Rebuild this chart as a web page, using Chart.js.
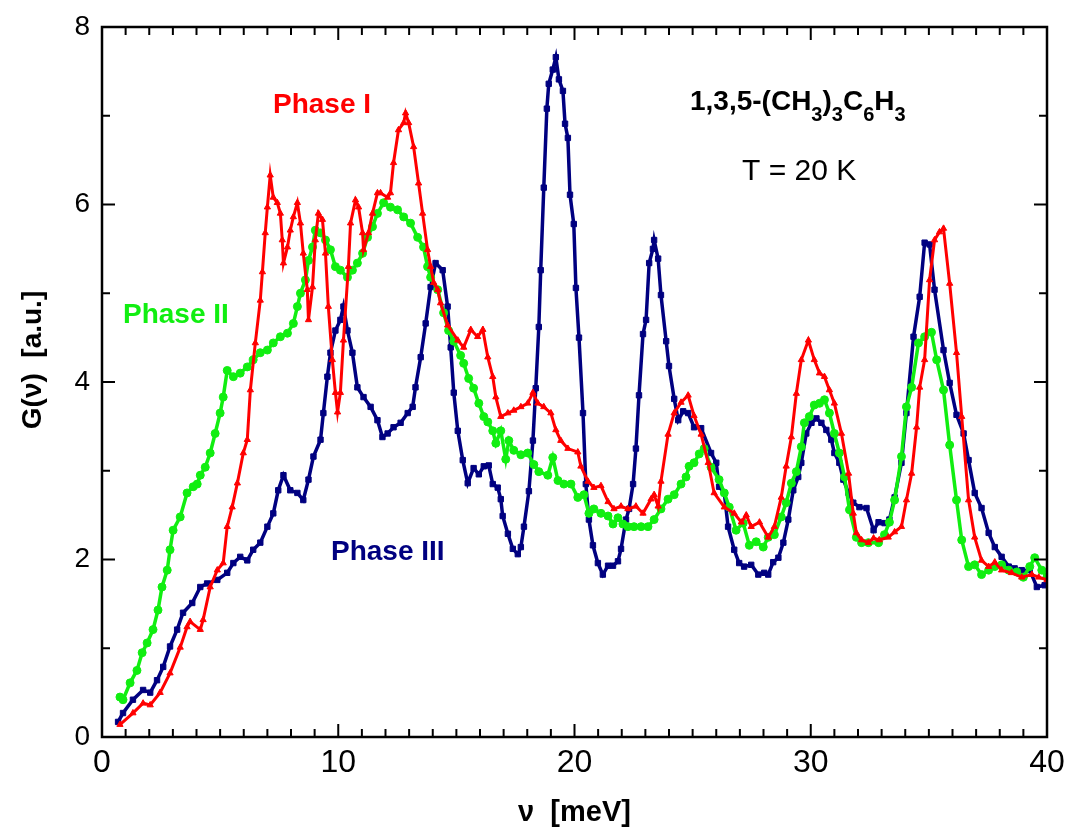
<!DOCTYPE html>
<html lang="ru">
<head>
<meta charset="UTF-8">
<title>G(ν) — 1,3,5-(CH3)3C6H3, T = 20 K</title>
<script src="https://cdn.jsdelivr.net/npm/chart.js"></script>
<style>
  html, body { margin: 0; padding: 0; background: #fff; }
  #wrap { width: 1065px; height: 830px; }
</style>
</head>
<body>
<div id="wrap"><canvas id="gChart" width="1065" height="830"></canvas></div>
<script>
// Phase I (red, triangles)
const phase1E = [0.76,1.31,1.74,2.04,2.46,2.88,3.31,3.60,3.73,4.16,4.28,4.58,4.88,5.13,5.30,5.51,5.73,5.98,6.15,6.28,6.49,6.70,6.79,6.91,7.00,7.12,7.25,7.42,7.55,7.63,7.68,7.85,7.97,8.10,8.27,8.40,8.52,8.69,8.74,8.91,9.03,9.16,9.33,9.46,9.58,9.75,9.88,9.97,10.09,10.22,10.43,10.52,10.73,10.86,11.03,11.07,11.28,11.45,11.66,11.79,12.09,12.21,12.34,12.55,12.77,12.85,12.98,13.19,13.40,13.57,13.78,13.91,14.04,14.21,14.33,14.63,15.06,15.31,15.61,15.90,16.12,16.33,16.54,16.67,16.88,17.18,17.43,17.73,18.02,18.24,18.45,18.70,19.00,19.21,19.42,19.72,20.14,20.27,20.57,20.82,21.12,21.42,21.67,21.97,22.26,22.60,22.90,23.24,23.37,23.54,23.66,23.96,24.22,24.51,24.81,25.06,25.36,25.66,25.91,26.34,26.76,27.06,27.27,27.48,27.83,28.20,28.46,28.75,28.96,29.18,29.39,29.60,29.90,30.15,30.37,30.58,30.79,31.00,31.30,31.60,31.80,31.93,32.15,32.44,32.66,32.90,33.28,33.55,33.84,34.05,34.27,34.48,34.61,34.82,35.03,35.24,35.45,35.62,35.88,36.17,36.39,36.68,36.94,37.23,37.53,37.79,38.08,38.50,38.93,39.36,39.65,40.00];
const phase1G = [0.14,0.27,0.38,0.36,0.50,0.72,1.01,1.24,1.30,1.21,1.32,1.69,1.88,1.96,2.37,2.59,2.86,3.20,3.35,3.91,4.44,4.92,5.24,5.68,5.97,6.33,6.08,6.02,5.90,5.60,5.34,5.52,5.71,5.86,6.02,5.79,5.45,5.04,4.70,5.07,5.60,5.90,5.83,5.45,4.85,4.25,3.88,3.66,3.88,4.47,5.30,5.79,6.05,5.97,5.68,5.49,5.68,5.90,6.13,6.13,6.08,6.13,6.47,6.84,6.92,7.03,6.92,6.65,6.24,5.90,5.49,5.30,5.12,5.04,4.89,4.64,4.47,4.39,4.59,4.51,4.59,4.28,4.06,3.83,3.61,3.65,3.68,3.72,3.76,3.88,3.76,3.72,3.65,3.46,3.34,3.25,3.21,3.05,2.88,2.81,2.83,2.65,2.57,2.60,2.57,2.60,2.52,2.68,2.73,2.60,2.88,3.41,3.65,3.77,3.85,3.62,3.41,3.09,2.75,2.59,2.52,2.42,2.50,2.37,2.42,2.25,2.37,2.70,3.05,3.38,3.87,4.25,4.47,4.25,4.10,4.06,3.91,3.76,3.42,2.97,2.52,2.30,2.22,2.19,2.24,2.22,2.25,2.31,2.37,2.67,2.97,3.49,3.94,4.25,5.15,5.60,5.69,5.73,5.11,4.33,3.61,2.67,2.25,1.99,1.92,1.97,1.88,1.85,1.80,1.83,1.80,1.77];

// Phase II (green, circles)
const phase2E = [0.76,0.89,1.19,1.48,1.70,1.91,2.16,2.37,2.54,2.76,2.88,3.01,3.31,3.60,3.86,4.03,4.16,4.37,4.58,4.79,5.00,5.13,5.30,5.56,5.85,6.15,6.40,6.70,7.00,7.25,7.55,7.85,8.10,8.27,8.40,8.61,8.74,8.91,9.03,9.25,9.46,9.67,9.88,10.09,10.39,10.60,10.81,11.03,11.24,11.45,11.66,11.92,12.21,12.51,12.77,13.06,13.36,13.61,13.78,13.91,14.21,14.46,14.67,14.89,15.18,15.31,15.52,15.73,15.95,16.16,16.33,16.54,16.67,16.88,17.09,17.22,17.43,17.73,18.02,18.28,18.49,18.87,19.08,19.30,19.55,19.85,20.14,20.40,20.61,20.82,21.12,21.42,21.63,21.84,22.05,22.26,22.52,22.82,23.11,23.37,23.66,23.96,24.22,24.51,24.72,24.85,25.06,25.28,25.49,25.78,26.12,26.34,26.55,26.84,27.14,27.40,27.69,27.99,28.20,28.46,28.75,28.96,29.18,29.39,29.60,29.73,29.94,30.15,30.37,30.58,30.79,31.00,31.21,31.43,31.64,31.93,32.15,32.44,32.87,33.12,33.33,33.55,33.84,34.05,34.27,34.56,34.82,35.11,35.33,35.62,35.88,36.17,36.39,36.68,36.94,37.23,37.53,37.79,38.08,38.38,38.72,39.00,39.27,39.48,39.78,40.00];
const phase2G = [0.45,0.42,0.61,0.75,0.95,1.06,1.21,1.43,1.69,1.88,2.11,2.33,2.48,2.75,2.82,2.85,2.95,3.04,3.20,3.42,3.65,3.83,4.13,4.06,4.10,4.17,4.25,4.33,4.36,4.44,4.51,4.55,4.66,4.85,5.00,5.15,5.37,5.52,5.71,5.68,5.60,5.49,5.30,5.26,5.18,5.26,5.34,5.45,5.63,5.75,5.90,6.02,5.97,5.94,5.86,5.79,5.63,5.52,5.30,5.18,5.04,4.78,4.58,4.46,4.30,4.21,4.04,3.93,3.76,3.61,3.55,3.45,3.31,3.45,3.13,3.34,3.23,3.18,3.20,3.07,2.99,2.95,3.15,2.89,2.85,2.85,2.70,2.73,2.52,2.57,2.52,2.49,2.40,2.47,2.40,2.37,2.37,2.37,2.37,2.45,2.57,2.68,2.73,2.85,2.93,3.05,3.09,3.19,3.25,3.04,2.90,2.75,2.59,2.33,2.41,2.16,2.20,2.14,2.25,2.28,2.48,2.64,2.86,2.99,3.27,3.54,3.61,3.74,3.76,3.80,3.65,3.42,3.20,2.93,2.56,2.25,2.19,2.19,2.19,2.28,2.42,2.67,3.16,3.72,3.94,4.44,4.51,4.56,4.25,3.91,3.29,2.67,2.22,1.92,1.94,1.83,1.88,1.92,1.94,1.88,1.86,1.80,1.92,2.02,1.88,1.80];

// Phase III (navy, squares)
const phase3E = [0.68,0.89,1.31,1.74,2.04,2.33,2.59,2.88,3.18,3.43,3.82,4.16,4.45,4.88,5.30,5.56,5.85,6.15,6.40,6.70,7.00,7.25,7.46,7.68,7.97,8.27,8.52,8.74,8.95,9.25,9.37,9.54,9.67,9.88,10.09,10.22,10.39,10.60,10.81,11.07,11.37,11.66,11.87,12.09,12.34,12.64,12.94,13.15,13.27,13.49,13.70,13.91,14.12,14.42,14.63,14.76,14.89,15.06,15.27,15.48,15.73,15.95,16.16,16.37,16.54,16.75,16.88,16.96,17.18,17.39,17.60,17.73,17.86,18.07,18.24,18.36,18.49,18.57,18.70,18.83,18.91,19.08,19.21,19.34,19.51,19.60,19.72,19.81,19.97,20.06,20.19,20.36,20.48,20.61,20.78,20.99,21.20,21.42,21.63,21.84,21.97,22.18,22.31,22.48,22.60,22.73,22.90,23.03,23.16,23.32,23.37,23.54,23.66,23.88,24.00,24.22,24.39,24.60,24.81,25.06,25.36,25.78,26.00,26.12,26.34,26.50,26.76,26.97,27.18,27.48,27.78,28.03,28.20,28.41,28.63,28.84,29.05,29.26,29.47,29.60,29.81,30.03,30.24,30.45,30.66,30.87,31.00,31.21,31.38,31.60,31.80,32.06,32.36,32.66,32.87,33.12,33.33,33.55,33.84,34.05,34.35,34.61,34.82,35.03,35.24,35.62,35.88,36.17,36.47,36.68,36.94,37.23,37.53,37.79,38.08,38.38,38.63,38.93,39.27,39.57,39.90];
const phase3G = [0.17,0.27,0.42,0.53,0.50,0.64,0.79,1.02,1.21,1.40,1.51,1.69,1.73,1.77,1.85,1.96,2.03,1.99,2.11,2.19,2.37,2.52,2.78,2.95,2.78,2.75,2.67,2.90,3.16,3.35,3.65,4.06,4.33,4.58,4.70,4.85,4.58,4.33,3.94,3.83,3.72,3.57,3.38,3.42,3.49,3.54,3.65,3.72,3.94,4.28,4.66,5.07,5.34,5.26,4.85,4.39,3.88,3.45,3.12,2.86,3.03,2.96,3.05,3.06,2.85,2.81,2.68,2.49,2.29,2.12,2.06,2.14,2.37,2.77,3.34,3.93,4.62,5.26,6.19,7.08,7.36,7.52,7.66,7.41,7.28,6.91,6.75,6.11,5.78,5.06,4.50,3.65,2.85,2.45,2.16,1.96,1.83,1.93,1.93,1.98,2.12,2.45,2.57,2.85,3.25,3.85,4.54,4.70,5.34,5.50,5.60,5.39,4.98,4.46,4.18,3.81,3.57,3.67,3.65,3.49,3.48,3.20,3.09,2.82,2.75,2.37,2.11,1.96,1.92,1.94,1.83,1.85,1.83,1.97,2.02,2.19,2.45,2.78,2.93,3.09,3.42,3.54,3.59,3.54,3.46,3.35,3.20,3.09,2.90,2.75,2.64,2.59,2.58,2.33,2.42,2.41,2.45,2.70,3.09,3.65,4.51,4.96,5.57,5.55,5.04,4.36,3.99,3.63,3.42,3.12,2.75,2.58,2.30,2.14,2.03,1.92,1.90,1.88,1.88,1.69,1.71];

const xTicks = [0, 10, 20, 30, 40];
const yTicks = [0, 2, 4, 6, 8];

const RED = '#ff0000';
const GREEN = '#11ee11';
const NAVY = '#000080';
const FONT = '"Liberation Sans", Arial, Helvetica, sans-serif';

function toPoints(xs, ys) {
  return xs.map((v, i) => ({ x: v, y: ys[i] }));
}

function series(label, xs, ys, color, style, radius, width) {
  return {
    label: label,
    data: toPoints(xs, ys),
    borderColor: color,
    backgroundColor: color,
    borderWidth: width,
    pointStyle: style,
    pointRadius: radius,
    pointBorderWidth: 1,
    pointBackgroundColor: color,
    pointBorderColor: color,
    tension: 0
  };
}

// inward ticks on all four sides, frame and text labels
const frameTicks = {
  id: 'frameTicks',
  afterDatasetsDraw(chart) {
    const { ctx, chartArea: a, scales: { x, y } } = chart;
    ctx.save();
    ctx.strokeStyle = '#000';
    ctx.lineWidth = 2;
    ctx.beginPath();
    for (let v = 0; v <= 40; v++) {
      const px = x.getPixelForValue(v);
      const len = xTicks.includes(v) ? 13 : 8;
      ctx.moveTo(px, a.bottom); ctx.lineTo(px, a.bottom - len);
      ctx.moveTo(px, a.top); ctx.lineTo(px, a.top + len);
    }
    for (let g = 0; g <= 8; g++) {
      const py = y.getPixelForValue(g);
      const len = yTicks.includes(g) ? 13 : 8;
      ctx.moveTo(a.left, py); ctx.lineTo(a.left + len, py);
      ctx.moveTo(a.right, py); ctx.lineTo(a.right - len, py);
    }
    ctx.stroke();
    ctx.lineWidth = 2.5;
    ctx.strokeRect(a.left, a.top, a.right - a.left, a.bottom - a.top);
    ctx.restore();
  },
  afterDraw(chart) {
    const ctx = chart.ctx;
    ctx.save();
    ctx.textBaseline = 'alphabetic';

    // y axis title
    ctx.save();
    ctx.translate(41, 360);
    ctx.rotate(-Math.PI / 2);
    ctx.textAlign = 'center';
    ctx.fillStyle = '#000';
    ctx.font = 'bold 28px ' + FONT;
    ctx.fillText('G(ν)  [a.u.]', 0, 0);
    ctx.restore();

    ctx.textAlign = 'left';
    ctx.font = 'bold 28px ' + FONT;
    ctx.fillStyle = RED;
    ctx.fillText('Phase I', 273, 113);
    ctx.fillStyle = GREEN;
    ctx.fillText('Phase II', 123, 323);
    ctx.fillStyle = NAVY;
    ctx.fillText('Phase III', 331, 560);

    // compound formula with subscripts
    ctx.fillStyle = '#000';
    const parts = [['1,3,5-(CH', false], ['3', true], [')', false], ['3', true], ['C', false], ['6', true], ['H', false], ['3', true]];
    let cx = 690;
    parts.forEach(([t, sub]) => {
      ctx.font = sub ? 'bold 20px ' + FONT : 'bold 28px ' + FONT;
      ctx.fillText(t, cx, sub ? 121 : 110);
      cx += ctx.measureText(t).width;
    });

    ctx.font = '30px ' + FONT;
    ctx.fillText('T = 20 K', 742, 180);
    ctx.restore();
  }
};

new Chart(document.getElementById('gChart'), {
  type: 'line',
  data: {
    datasets: [
      series('Phase I', phase1E, phase1G, RED, 'triangle', 3.6, 3),
      series('Phase II', phase2E, phase2G, GREEN, 'circle', 4, 3.5),
      series('Phase III', phase3E, phase3G, NAVY, 'rect', 3.8, 3.5)
    ]
  },
  options: {
    responsive: false,
    animation: false,
    layout: { padding: { top: 27, right: 18, left: 0, bottom: 0 } },
    plugins: { legend: { display: false }, tooltip: { enabled: false } },
    scales: {
      x: {
        type: 'linear',
        min: 0,
        max: 40,
        afterBuildTicks: (s) => { s.ticks = xTicks.map(v => ({ value: v })); },
        afterFit: (s) => { s.height = 93; s.paddingLeft = 0; s.paddingRight = 0; },
        grid: { display: false, drawTicks: false },
        border: { display: false },
        ticks: { color: '#000', padding: 7, maxRotation: 0, autoSkip: false, font: { family: FONT, size: 32 } },
        title: { display: true, text: 'ν  [meV]', color: '#000', padding: { top: 0, bottom: 0 }, font: { family: FONT, size: 29, weight: 'bold' } }
      },
      y: {
        min: 0,
        max: 8,
        afterBuildTicks: (s) => { s.ticks = yTicks.map(v => ({ value: v })); },
        afterFit: (s) => { s.width = 102; s.paddingTop = 0; s.paddingBottom = 0; },
        grid: { display: false, drawTicks: false },
        border: { display: false },
        ticks: { color: '#000', padding: 12, font: { family: FONT, size: 28 } }
      }
    }
  },
  plugins: [frameTicks]
});
</script>
</body>
</html>
